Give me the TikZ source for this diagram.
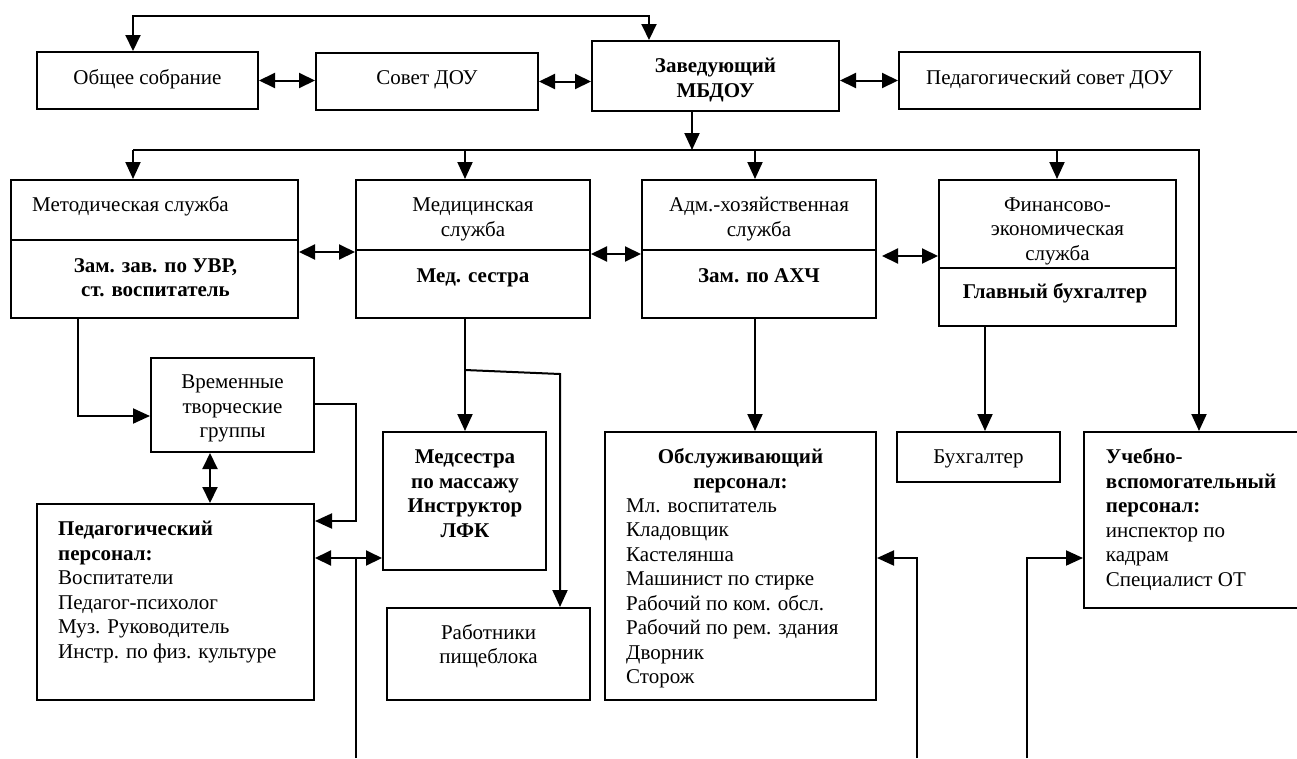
\documentclass[tikz,border=0pt]{standalone}
\usepackage{fontspec}
\setmainfont{Liberation Serif}
\usetikzlibrary{arrows.meta,fit}
\begin{document}
\begin{tikzpicture}[x=1pt,y=-1pt,
  box/.style={draw, line width=2pt, inner sep=0pt},
  txt/.style={inner sep=0pt, font=\fontsize{21}{24.5}\selectfont, align=center},
  txtb/.style={txt, font=\fontsize{21}{24.5}\selectfont\bfseries},
  ln/.style={line width=2pt},
  arr/.style={ln, -{Triangle[length=17pt,width=15pt]}},
  both/.style={ln, {Triangle[length=16pt,width=15pt]}-{Triangle[length=16pt,width=15pt]}}]
\path[use as bounding box, fill=white] (0,0) rectangle (1297,758);
\clip (0,0) rectangle (1297,758);

% boxes
\node[box, fit={(37,52)(258,109)}] (obs) {};
\node[box, fit={(316,53)(538,110)}] (sov) {};
\node[box, fit={(592,41)(839,111)}] (zav) {};
\node[box, fit={(899,52)(1200,109)}] (psov) {};
\node[box, fit={(11,180)(298,318)}] (met) {};
\node[box, fit={(356,180)(590,318)}] (med) {};
\node[box, fit={(642,180)(876,318)}] (adm) {};
\node[box, fit={(939,180)(1176,326)}] (fin) {};
\node[box, fit={(151,358)(314,452)}] (vrem) {};
\node[box, fit={(37,504)(314,700)}] (ped) {};
\node[box, fit={(383,432)(546,570)}] (msis) {};
\node[box, fit={(387,608)(590,700)}] (rab) {};
\node[box, fit={(605,432)(876,700)}] (obsl) {};
\node[box, fit={(897,432)(1060,482)}] (buh) {};
\node[box, fit={(1084,432)(1320,608)}] (uch) {};

% dividers
\coordinate (d1) at (0,240);
\coordinate (d2) at (0,250);
\coordinate (d3) at (0,268);
\draw[ln] (met.west |- d1) -- (met.east |- d1);
\draw[ln] (med.west |- d2) -- (med.east |- d2);
\draw[ln] (adm.west |- d2) -- (adm.east |- d2);
\draw[ln] (fin.west |- d3) -- (fin.east |- d3);

% texts
\node[txt] (tObs) at (147.5,80) {\strut Общее собрание};
\node[txt] (tSov) at (427,80) {\strut Совет ДОУ};
\node[txtb] (tZav) at (715.5,80) {\strut Заведующий\\\strut МБДОУ};
\node[txt] (tPsov) at (1049.5,80) {\strut Педагогический совет ДОУ};
\node[txt, anchor=west] (tMet) at (32,207) {\strut Методическая служба};
\node[txtb] (tUVR) at (155.5,279.6) {\strut Зам. зав. по УВР,\\\strut ст. воспитатель};
\node[txt] (tMed) at (473,219) {\strut Медицинская\\\strut служба};
\node[txtb] (tMedS) at (473,278) {\strut Мед. сестра};
\node[txt] (tAdm) at (759,219) {\strut Адм.-хозяйственная\\\strut служба};
\node[txtb] (tAHC) at (759,278) {\strut Зам. по АХЧ};
\node[txt] (tFin) at (1057.5,230.8) {\strut Финансово-\\\strut экономическая\\\strut служба};
\node[txtb] (tGlav) at (1055,294) {\strut Главный бухгалтер};
\node[txt] (tVrem) at (232.5,408.3) {\strut Временные\\\strut творческие\\\strut группы};
\node[txt, align=left, anchor=west] (tPed) at (58,592.3) {\strut\textbf{Педагогический}\\\strut\textbf{персонал:}\\\strut Воспитатели\\\strut Педагог-психолог\\\strut Муз. Руководитель\\\strut Инстр. по физ. культуре};
\node[txtb] (tMsis) at (465,495.8) {\strut Медсестра\\\strut по массажу\\\strut Инструктор\\\strut ЛФК};
\node[txt] (tRab) at (488.5,646.7) {\strut Работники\\\strut пищеблока};
\node[txtb] (tObslH) at (740.5,471.3) {\strut Обслуживающий\\\strut персонал:};
\node[txt, align=left, anchor=west] (tObslL) at (626,592.9) {\strut Мл. воспитатель\\\strut Кладовщик\\\strut Кастелянша\\\strut Машинист по стирке\\\strut Рабочий по ком. обсл.\\\strut Рабочий по рем. здания\\\strut Дворник\\\strut Сторож};
\node[txt] (tBuh) at (978.5,459) {\strut Бухгалтер};
\node[txt, align=left, anchor=west] (tUch) at (1105.7,520.1) {\strut\textbf{Учебно-}\\\strut\textbf{вспомогательный}\\\strut\textbf{персонал:}\\\strut инспектор по\\\strut кадрам\\\strut Специалист ОТ};

% top connector
\coordinate (tl) at (133,16);
\coordinate (tr) at (649,16);
\draw[both] (obs.north -| tl) -- (tl) -- (tr) -- (zav.north -| tr);
\draw[both] (obs.east) -- (obs.east -| sov.west);
\draw[both] (sov.east) -- (sov.east -| zav.west);
\draw[both] (psov.west -| zav.east) -- (psov.west);

% bus
\coordinate (zb) at (692,150);
\coordinate (busL) at (133,150);
\coordinate (busR) at (1199,150);
\coordinate (bm) at (465,150);
\coordinate (ba) at (755,150);
\coordinate (bf) at (1057,150);
\draw[arr] (zav.south -| zb) -- (zb);
\draw[arr] (busL) -- (busR) -- (busR |- uch.north);
\draw[arr] (busL) -- (busL |- met.north);
\draw[arr] (bm) -- (bm |- med.north);
\draw[arr] (ba) -- (ba |- adm.north);
\draw[arr] (bf) -- (bf |- fin.north);

% services links
\coordinate (h1) at (0,252);
\coordinate (h2) at (0,254);
\coordinate (h3) at (0,256);
\draw[both] (met.east |- h1) -- (med.west |- h1);
\draw[both] (med.east |- h2) -- (adm.west |- h2);
\draw[both] ([xshift=5pt]adm.east |- h3) -- (fin.west |- h3);

% methodical -> temporary groups
\coordinate (mv) at (78,416);
\draw[arr] (met.south -| mv) -- (mv) -- (mv -| vrem.west);
\coordinate (vp1) at (356,404);
\coordinate (vp2) at (356,521);
\draw[arr] (vrem.east |- vp1) -- (vp1) -- (vp2) -- (vp2 -| ped.east);
\coordinate (vv) at (210,0);
\draw[both] (vrem.south -| vv) -- (ped.north -| vv);
\coordinate (pm) at (356,558);
\draw[both] (ped.east |- pm) -- (msis.west |- pm);
\coordinate (bot1) at (356,758);
\draw[ln] (bot1) -- (pm);

% medical
\coordinate (mm) at (465,0);
\draw[arr] (med.south -| mm) -- (msis.north -| mm);
\coordinate (br1) at (465,370);
\coordinate (br2) at (560,374);
\draw[arr] (br1) -- (br2) -- (br2 |- rab.north);

% adm, fin
\coordinate (ao) at (755,0);
\draw[arr] (adm.south -| ao) -- (obsl.north -| ao);
\coordinate (fb) at (985,0);
\draw[arr] (fin.south -| fb) -- (buh.north -| fb);

% bottom links
\coordinate (bot2) at (917,758);
\coordinate (k2) at (917,558);
\draw[arr] (bot2) -- (k2) -- (k2 -| obsl.east);
\coordinate (bot3) at (1027,758);
\coordinate (k3) at (1027,558);
\draw[arr] (bot3) -- (k3) -- (k3 -| uch.west);
\end{tikzpicture}
\end{document}
